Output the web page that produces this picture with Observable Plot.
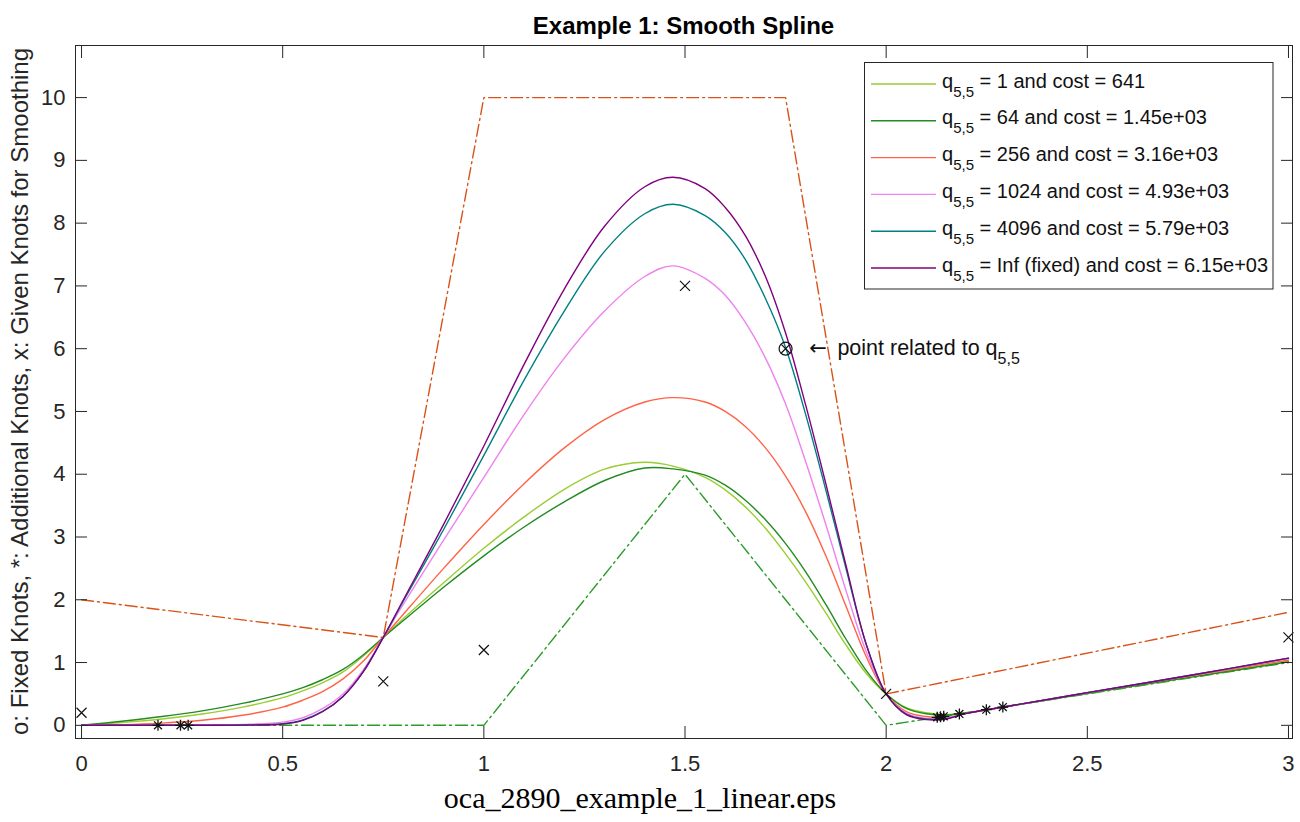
<!DOCTYPE html>
<html><head><meta charset="utf-8">
<script src="https://cdn.jsdelivr.net/npm/d3@7"></script>
<script src="https://cdn.jsdelivr.net/npm/@observablehq/plot@0.6"></script>
<style>
body{margin:0;background:#fff;}
#wrap{position:relative;width:1300px;height:822px;overflow:hidden;background:#fff}
#wrap svg{position:absolute;left:0;top:0}
</style></head><body><div id="wrap"></div>
<script>
// ---------- data ----------
const xKnots = [0,0.1,0.2,0.3,0.4,0.5,0.55,0.6,0.65,0.7,0.75,0.8,0.9,1.0,1.1,1.2,1.3,1.4,1.47,1.55,1.6,1.65,1.7,1.75,1.8,1.85,1.9,1.95,2.0,2.05,2.1,2.15,2.2,2.3,2.5,2.75,3.0];
const seriesNames = ["1 and cost = 641","64 and cost = 1.45e+03","256 and cost = 3.16e+03","1024 and cost = 4.93e+03","4096 and cost = 5.79e+03","Inf (fixed) and cost = 6.15e+03"];
const seriesColors = ["#9ACD32","#228B22","#FF6347","#EE82EE","#008080","#800080"];
const yQ1    = [0,0.045,0.1,0.18,0.29,0.44,0.55,0.68,0.85,1.1,1.4,1.7,2.27,2.82,3.32,3.76,4.08,4.19,4.13,3.95,3.75,3.48,3.14,2.73,2.28,1.79,1.28,0.83,0.5,0.28,0.2,0.17,0.2,0.3,0.51,0.76,1.02];
const yQ64   = [0,0.065,0.14,0.23,0.35,0.5,0.6,0.73,0.89,1.12,1.4,1.67,2.2,2.7,3.16,3.56,3.9,4.1,4.085,3.985,3.825,3.585,3.275,2.895,2.445,1.925,1.375,0.875,0.5,0.27,0.185,0.165,0.2,0.3,0.51,0.76,1.01];
const yQ256  = [0,0.01,0.035,0.08,0.16,0.29,0.4,0.54,0.74,1.02,1.4,1.77,2.5,3.2,3.85,4.42,4.87,5.15,5.22,5.15,5.0,4.76,4.42,3.97,3.4,2.7,1.9,1.1,0.5,0.22,0.14,0.13,0.19,0.3,0.52,0.78,1.04];
const yQ1024 = [0,0,0.001,0.004,0.015,0.05,0.12,0.27,0.5,0.88,1.4,1.93,2.95,3.95,4.95,5.85,6.6,7.15,7.32,7.12,6.85,6.42,5.85,5.12,4.2,3.2,2.15,1.18,0.5,0.19,0.11,0.12,0.19,0.3,0.52,0.79,1.06];
const yQ4096 = [0,0,0,0.001,0.005,0.025,0.085,0.225,0.46,0.85,1.4,1.98,3.12,4.3,5.5,6.6,7.55,8.15,8.3,8.12,7.85,7.42,6.8,6.02,4.95,3.75,2.5,1.3,0.5,0.18,0.1,0.11,0.19,0.3,0.52,0.79,1.07];
const yQInf  = [0,0,0,0,0.003,0.02,0.08,0.22,0.46,0.85,1.4,2.0,3.2,4.45,5.75,6.95,7.95,8.58,8.73,8.55,8.25,7.8,7.15,6.25,5.1,3.85,2.55,1.3,0.5,0.17,0.09,0.1,0.19,0.3,0.52,0.79,1.07];
const seriesValues = [yQ1,yQ64,yQ256,yQ1024,yQ4096,yQInf];

const upperX = [0,0.75,1,1.75,2,3], upperY = [2,1.4,10,10,0.5,1.8];
const lowerX = [0,1,1.5,2,3],        lowerY = [0,0,4,0,1];
const givenX = [0,0.75,1,1.5,2,3],   givenY = [0.2,0.7,1.2,7,0.5,1.4];
const addX = [0.19,0.246,0.265,2.127,2.135,2.143,2.182,2.249,2.29];
const addY = [0,0,0,0.127,0.135,0.143,0.182,0.249,0.29];
const fixedX = [1.75], fixedY = [6];
const xTicks = [0,0.5,1,1.5,2,2.5,3];
const xTickLabels = ["0","0.5","1","1.5","2","2.5","3"];
const yTicks = [0,1,2,3,4,5,6,7,8,9,10];
const yTickLabels = ["0","1","2","3","4","5","6","7","8","9","10"];
const titleText = "Example 1: Smooth Spline";
const yLabelText = "o: Fixed Knots, *: Additional Knots, x: Given Knots for Smoothing";
const captionText = "oca_2890_example_1_linear.eps";
const annArrowX = 1.81, annTextX = 1.88, annY = 6;

// ---------- build ----------
const pts = (X, Y) => X.map((x, i) => ({x, y: Y[i]}));
const AX = "#262626";
const FONT = "'Liberation Sans', Arial, Helvetica, sans-serif";

const timesSym = {draw(c, s){const r=Math.sqrt(s/Math.PI);c.moveTo(-r,-r);c.lineTo(r,r);c.moveTo(-r,r);c.lineTo(r,-r);}};
const starSym = {draw(c, s){const r=Math.sqrt(s/Math.PI), d=r*0.72;
  c.moveTo(-r,0);c.lineTo(r,0);c.moveTo(0,-r);c.lineTo(0,r);
  c.moveTo(-d,-d);c.lineTo(d,d);c.moveTo(-d,d);c.lineTo(d,-d);}};
const otimesSym = {draw(c, s){const r=Math.sqrt(s/Math.PI), d=r*0.62;
  c.moveTo(r,0);c.arc(0,0,r,0,2*Math.PI);
  c.moveTo(-d,-d);c.lineTo(d,d);c.moveTo(-d,d);c.lineTo(d,-d);}};

const curveMarks = seriesValues.map((ys, i) =>
  Plot.line(pts(xKnots, ys), {x:"x", y:"y", stroke: seriesColors[i], strokeWidth: 1.4, curve: "catmull-rom"}));

const plot = Plot.plot({
  width: 1300, height: 822,
  marginTop: 45, marginBottom: 84, marginLeft: 75, marginRight: 8,
  x: {domain: [-0.015, 3.01]},
  y: {domain: [-0.21, 10.83]},
  style: {fontFamily: FONT, fontSize: "22px", color: AX, background: "transparent", overflow: "visible"},
  marks: [
    Plot.line(pts(upperX, upperY), {x:"x", y:"y", stroke:"#D95319", strokeWidth:1.4, strokeDasharray:"12,4,2,4"}),
    Plot.line(pts(lowerX, lowerY), {x:"x", y:"y", stroke:"#2A9A2A", strokeWidth:1.4, strokeDasharray:"12,4,2,4"}),
    ...curveMarks,
    Plot.dot(pts(givenX, givenY), {x:"x", y:"y", symbol: timesSym, r: 5, stroke: "#111", strokeWidth: 1.2, fill: "none"}),
    Plot.dot(pts(addX, addY), {x:"x", y:"y", symbol: starSym, r: 5.5, stroke: "#111", strokeWidth: 1.3, fill: "none"}),
    Plot.dot(pts(fixedX, fixedY), {x:"x", y:"y", symbol: otimesSym, r: 6.5, stroke: "#111", strokeWidth: 1.2, fill: "none"}),
    Plot.frame({stroke: AX, strokeWidth: 1}),
    Plot.axisX(xTicks, {anchor:"bottom", tickSize: 0, tickPadding: 17, tickFormat: (d, i) => xTickLabels[i], label: null, fill: AX, fontSize: 22}),
    Plot.axisX(xTicks, {anchor:"bottom", tickSize: -12, fill: "none", label: null, stroke: AX}),
    Plot.axisX(xTicks, {anchor:"top", tickSize: -12, fill: "none", label: null, stroke: AX}),
    Plot.axisY(yTicks, {anchor:"left", tickSize: 0, tickPadding: 10, tickFormat: (d, i) => yTickLabels[i], label: null, fill: AX, fontSize: 22}),
    Plot.axisY(yTicks, {anchor:"left", tickSize: -12, fill: "none", label: null, stroke: AX}),
    Plot.axisY(yTicks, {anchor:"right", tickSize: -12, fill: "none", label: null, stroke: AX})
  ]
});
const wrap = document.getElementById("wrap");
wrap.appendChild(plot);

// ---------- overlay texts / legend ----------
const xS = plot.scale("x"), yS = plot.scale("y");
const ov = d3.select(wrap).append("svg").attr("width", 1300).attr("height", 822)
  .style("pointer-events", "none").attr("font-family", FONT);

ov.append("text").attr("x", 683.5).attr("y", 34).attr("text-anchor", "middle")
  .attr("font-weight", "bold").attr("font-size", 24).attr("fill", "#000").text(titleText);

ov.append("text").attr("transform", "translate(28,391.5) rotate(-90)").attr("text-anchor", "middle")
  .attr("font-size", 24).attr("fill", AX).text(yLabelText);

ov.append("text").attr("x", 640).attr("y", 808).attr("text-anchor", "middle")
  .attr("font-family", "'Liberation Serif', 'DejaVu Serif', serif").attr("font-size", 30)
  .attr("fill", "#000").text(captionText);

// annotation
const ay = yS.apply(annY);
ov.append("text").attr("x", xS.apply(annArrowX)).attr("y", ay + 7).attr("font-size", 21)
  .attr("font-family", "'DejaVu Sans', sans-serif").attr("fill", "#111").text("\u2190");
const ann = ov.append("text").attr("x", xS.apply(annTextX)).attr("y", ay + 7).attr("font-size", 21.5).attr("fill", "#111");
ann.append("tspan").text("point related to q");
ann.append("tspan").attr("dy", 8.5).attr("font-size", 16).text("5,5");

// legend
const lg = ov.append("g");
lg.append("rect").attr("x", 864.5).attr("y", 62.5).attr("width", 408.5).attr("height", 226.5)
  .attr("fill", "#fff").attr("stroke", AX).attr("stroke-width", 1);
seriesNames.forEach((name, i) => {
  const ly = 84 + i * 36.8;
  lg.append("line").attr("x1", 871).attr("x2", 936).attr("y1", ly).attr("y2", ly)
    .attr("stroke", seriesColors[i]).attr("stroke-width", 1.4);
  const t = lg.append("text").attr("x", 942).attr("y", ly + 3.5).attr("font-size", 20).attr("fill", "#111");
  t.append("tspan").text("q");
  t.append("tspan").attr("dy", 9).attr("font-size", 15).text("5,5");
  t.append("tspan").attr("dy", -9).text("\u00a0= " + name);
});
</script>
</body></html>
